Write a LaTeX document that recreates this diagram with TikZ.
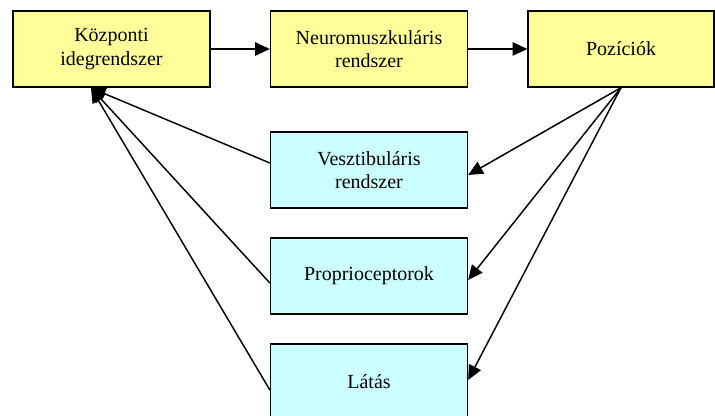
\documentclass[tikz,border=0pt]{standalone}
\usepackage{fontspec}
\setmainfont{Liberation Serif}
\usetikzlibrary{arrows.meta,calc}
\definecolor{boxyellow}{HTML}{FFFF99}
\definecolor{boxcyan}{HTML}{CCFFFF}
\begin{document}
\begin{tikzpicture}[x=0.75pt,y=-0.75pt,
  box/.style={draw=black,line width=1pt,minimum width=147.75pt,minimum height=57pt,
    align=center,inner sep=2pt,font=\fontsize{15}{17.5}\selectfont},
  ybox/.style={box,fill=boxyellow},
  cbox/.style={box,fill=boxcyan},
  conn/.style={line width=1.1pt,-{Triangle[length=11pt,width=10pt]}}]
\useasboundingbox (0,0) rectangle (715,416);
\node[ybox] (kozp) at (111.5,49) {Központi\\idegrendszer};
\node[ybox] (neuro) at (369,49) {Neuromuszkuláris\\rendszer};
\node[ybox,minimum width=139.5pt] (poz) at (621,49) {Pozíciók};
\node[cbox] (veszt) at (369,170) {Vesztibuláris\\rendszer};
\node[cbox] (prop) at (369,276) {Proprioceptorok};
\node[cbox] (latas) at (369,382) {Látás};
\coordinate (kin) at (91,88);
\draw[conn] (kozp.east) -- (neuro.west);
\draw[conn] (neuro.east) -- (poz.west);
\draw[conn] ([yshift=5.25pt]veszt.west) -- (kin);
\draw[conn] ([yshift=-5.25pt]prop.west) -- (kin);
\draw[conn] ([yshift=-6pt]latas.west) -- (kin);
\draw[conn] (poz.south) -- ([yshift=-3.75pt]veszt.east);
\draw[conn] (poz.south) -- ([yshift=-3pt]prop.east);
\draw[conn] (poz.south) -- ([yshift=1.5pt]latas.east);
\end{tikzpicture}
\end{document}
